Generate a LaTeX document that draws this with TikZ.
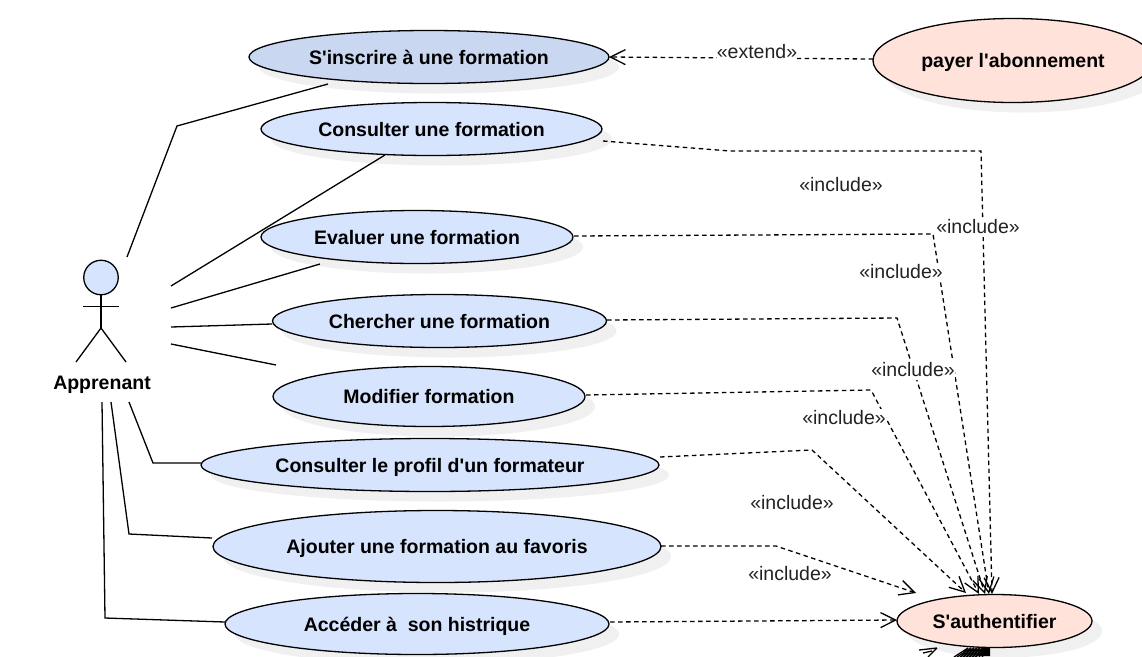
\documentclass[tikz,border=0pt]{standalone}
\usepackage{fontspec}
\newfontfamily\libfont{Liberation Sans}
\usetikzlibrary{arrows.meta,shapes.geometric}
\definecolor{ucblue}{HTML}{D7E4FD}
\definecolor{ucdark}{HTML}{CAD7F1}
\definecolor{ucpink}{HTML}{FFE2D9}
\definecolor{shad}{HTML}{F0F0F0}
\definecolor{lab}{HTML}{222222}
\tikzset{
  x=1pt,y=-1pt,
  uc/.style={font=\libfont\bfseries\fontsize{19.5}{22}\selectfont,text=black,inner sep=0pt,text height=18pt,text depth=4pt},
  lbl/.style={font=\libfont\fontsize{19.5}{22}\selectfont,text=lab,inner sep=0pt,fill=white,text height=16pt,text depth=3pt},
  assoc/.style={draw=black,line width=1.3pt},
  dep/.style={draw=black,line width=1.3pt,dash pattern=on 4.5pt off 3.5pt,-{Straight Barb[length=15pt,width=15pt,line width=1.3pt]}},
  depb/.style={draw=black,line width=1.3pt},
}
% \ucase{name}{cx}{cy}{rx}{ry}{fill}{text}
\newcommand{\ucase}[7]{%
  \fill[shad] (#2+10,#3+10) ellipse [x radius=#4,y radius=#5];
  \node[draw=black,line width=1.3pt,fill=#6,ellipse,minimum width=2*#4,minimum height=2*#5,inner sep=0pt] (#1) at (#2,#3) {};
  \node[uc] (#1t) at (#2,#3) {#7};
}
\begin{document}
\begin{tikzpicture}
\path[use as bounding box] (0,0) rectangle (1142,656);
\clip (0,0) rectangle (1142,656);
\fill[white] (0,0) rectangle (1142,656);
\ucase{ins}{429}{57}{180}{26.5}{ucdark}{S'inscrire à une formation}
\ucase{pay}{1013}{60.5}{140}{42}{ucpink}{payer l'abonnement}
\ucase{con}{431.5}{129}{170.5}{26.5}{ucblue}{Consulter une formation}
\ucase{eva}{417}{237}{156}{26.5}{ucblue}{Evaluer une formation}
\ucase{che}{439.5}{321}{167}{26.5}{ucblue}{Chercher une formation}
\ucase{mod}{429}{396.5}{156}{30}{ucblue}{Modifier formation}
\ucase{pro}{430}{465}{229}{26.5}{ucblue}{Consulter le profil d'un formateur}
\ucase{fav}{437}{546.5}{224}{36}{ucblue}{Ajouter une formation au favoris}
\ucase{his}{417}{624}{192}{30.5}{ucblue}{Accéder à\ \ son histrique}
\ucase{aut}{994.5}{621}{97.5}{26.5}{ucpink}{S'authentifier}
% arrowheads clipped by the lower edge
\foreach \tx in {968,971,974,977,980,983,986,989}
  \draw[depb] (\tx,648) -- (\tx-14,657) (\tx,648) -- (\tx-7,657);
\fill[black] (978,656) -- (982,648) -- (990,648) -- (990,656) -- cycle;
\draw[depb] (937,648) -- (919,650) (937,648) -- (928,657) (923,653) -- (932,651);
% actor
\node[draw=black,line width=1.3pt,fill=ucblue,circle,minimum size=34.5pt,inner sep=0pt] (head) at (101,277.5) {};
\coordinate (hip) at (101,328);
\coordinate (armL) at (83,306.5);
\coordinate (armR) at (119,306.5);
\coordinate (footL) at (76,362);
\coordinate (footR) at (126,362);
\draw[assoc] (head.south) -- (hip);
\draw[assoc] (armL) -- (armR);
\draw[assoc] (footL) -- (hip) -- (footR);
\node[uc] (actor) at (102,382) {Apprenant};
% association ends
\coordinate (a1) at (127,257); \coordinate (a1e) at (328,84);
\coordinate (a2) at (171,286); \coordinate (a2e) at (385,155);
\coordinate (a3) at (171,308); \coordinate (a3e) at (320,264);
\coordinate (a4) at (171,327); \coordinate (a4e) at (272,324);
\coordinate (a5) at (171,344); \coordinate (a5e) at (276,365);
\coordinate (a6) at (129,402); \coordinate (a6e) at (201,463);
\coordinate (a7) at (111,402); \coordinate (a7e) at (212,538);
\coordinate (a8) at (102,402); \coordinate (a8e) at (225,622);
\draw[assoc] (a1) -- (177,126) -- (a1e);
\draw[assoc] (a2) -- (a2e);
\draw[assoc] (a3) -- (a3e);
\draw[assoc] (a4) -- (a4e);
\draw[assoc] (a5) -- (a5e);
\draw[assoc] (a6) -- (153,463) -- (a6e);
\draw[assoc] (a7) -- (129,534) -- (a7e);
\draw[assoc] (a8) -- (105,618) -- (a8e);
% dependencies
\coordinate (d0) at (873,59);
\coordinate (d0e) at (609,57);
\draw[dep] (d0) -- (d0e);
\node[lbl] (l0) at (757,52) {«extend»};
\coordinate (t1) at (992,594);
\coordinate (t2) at (989,594);
\coordinate (t3) at (985,594);
\coordinate (t4) at (979,594);
\coordinate (t5) at (966,593);
\coordinate (t6) at (916,593);
\coordinate (t7) at (897,620);
\draw[dep] (603,141) -- (730,151) -- (981,151) -- (t1);
\draw[dep] (574,236) -- (933,234) -- (t2);
\draw[dep] (607,320) -- (897,318) -- (t3);
\draw[dep] (586,395) -- (871,390) -- (t4);
\draw[dep] (660,457) -- (812,450) -- (t5);
\draw[dep] (661,546) -- (776,546) -- (t6);
\draw[dep] (610,622) -- (t7);
\node[lbl,fill=none] (l1) at (841,185) {«include»};
\node[lbl] (l2) at (978,227) {«include»};
\node[lbl] (l3) at (901,272) {«include»};
\node[lbl] (l4) at (913,370) {«include»};
\node[lbl] (l5) at (844,418) {«include»};
\node[lbl,fill=none] (l6) at (792,503) {«include»};
\node[lbl] (l7) at (790,574) {«include»};
\end{tikzpicture}
\end{document}
